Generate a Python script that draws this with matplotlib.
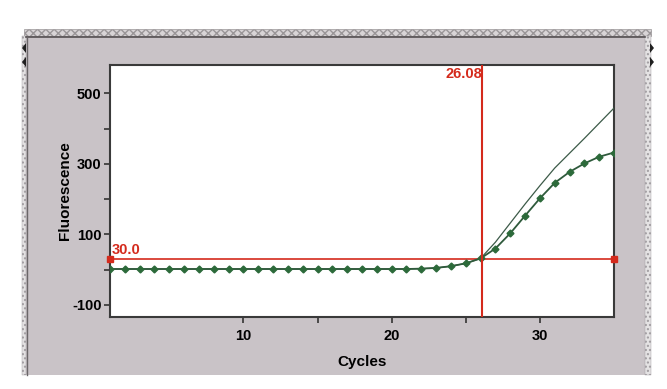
import numpy as np
import matplotlib
matplotlib.use("Agg")
import matplotlib.pyplot as plt
from matplotlib.patches import Rectangle, Polygon

plt.rcParams["font.family"] = ["Liberation Sans", "DejaVu Sans"]
plt.rcParams["font.weight"] = "bold"
plt.rcParams["axes.unicode_minus"] = False

# qPCR amplification data
cycles = np.arange(1, 36)
fitted = [2] * 21 + [3, 5, 10, 18, 32, 60, 103, 153, 202, 246, 277, 301, 320, 332]
raw = [2] * 21 + [3, 5, 10, 18, 32, 78, 132, 186, 238, 288, 330, 372, 415, 458]
threshold = 30.0
ct = 26.08
yticks_major = [-100, 100, 300, 500]
yticks_minor = [0, 200, 400]
xticks_major = [10, 20, 30]
xticks_minor = [15, 25]

W, H = 667, 389
fig = plt.figure(figsize=(W / 100, H / 100), dpi=100)
fig.patch.set_facecolor("white")


def fx(px):
    return px / W


def fy(py):
    return 1 - py / H


# window chrome
gray = "#c9c3c7"
fig.patches.append(Rectangle((fx(26), fy(375)), fx(620), (375 - 36) / H,
                             transform=fig.transFigure, facecolor=gray,
                             edgecolor="none", zorder=-2))
fig.patches.append(Rectangle((fx(24), fy(36)), fx(627), 7 / H,
                             transform=fig.transFigure, facecolor="#d8d4d6",
                             edgecolor="#9a9698", hatch="xxxx", lw=0.5, zorder=-2))
fig.patches.append(Rectangle((fx(645), fy(375)), fx(6), (375 - 36) / H,
                             transform=fig.transFigure, facecolor="#e4e2e3",
                             edgecolor="#a09ca0", hatch="....", lw=0.3, zorder=-2))
fig.patches.append(Rectangle((fx(22), fy(375)), fx(4), (375 - 36) / H,
                             transform=fig.transFigure, facecolor="#e4e2e3",
                             edgecolor="#a09ca0", hatch="....", lw=0.3, zorder=-2))
fig.lines.append(plt.Line2D([fx(26), fx(645)], [fy(37), fy(37)],
                            transform=fig.transFigure, color="#555052", lw=1.2,
                            zorder=-1))
fig.lines.append(plt.Line2D([fx(27), fx(27)], [fy(37), fy(375)],
                            transform=fig.transFigure, color="#6a6668", lw=1.0,
                            zorder=-1))
for yy in (48, 62):
    for x0, d in ((26, 1), (650, -1)):
        fig.patches.append(Polygon([(fx(x0), fy(yy - 5)), (fx(x0), fy(yy + 5)),
                                    (fx(x0 - 4 * d), fy(yy))],
                                   transform=fig.transFigure, facecolor="#202020",
                                   edgecolor="none", zorder=-1))

ax = fig.add_axes([fx(110), fy(317), fx(614 - 110), (317 - 65) / H])
ax.set_zorder(2)
ax.set_facecolor("white")

line_col = "#2f5a3c"
ax.plot(cycles, raw, color="#3c5a48", lw=0.9, zorder=3)
ax.plot(cycles, fitted, color=line_col, lw=1.3, marker="D", ms=3.5,
        markerfacecolor="#2c6a3a", markeredgecolor="#2c6a3a", zorder=4)

red = "#d42a1c"
ax.axhline(threshold, color=red, lw=1.2, zorder=2)
ax.plot([1, 35], [threshold, threshold], ls="none", marker="s", ms=5,
        color=red, clip_on=False, zorder=5)
ax.axvline(ct, color=red, lw=1.5, zorder=5)
ax.text(1.1, threshold + 6, f"{threshold:.1f}", color=red, fontsize=10.5,
        fontweight="bold", ha="left", va="bottom")
ax.text(ct, 575, f"{ct:.2f}", color=red, fontsize=10.5, fontweight="bold",
        ha="right", va="top")

ax.set_xlim(1, 35)
ax.set_ylim(-134, 580)
ax.set_yticks(yticks_major)
ax.set_yticks(yticks_minor, minor=True)
ax.set_xticks(xticks_major)
ax.set_xticks(xticks_minor, minor=True)
ax.tick_params(which="both", direction="out", length=4, width=1.2,
               color="#333333", labelsize=10.5)
ax.tick_params(axis="x", pad=5)
ax.tick_params(axis="y", pad=2)
for lab in ax.get_xticklabels() + ax.get_yticklabels():
    lab.set_fontweight("bold")
for s in ax.spines.values():
    s.set_color("#3a3a3a")
    s.set_linewidth(1.5)

ax.set_xlabel("Cycles", fontsize=11, fontweight="bold", labelpad=8)
ax.set_ylabel("Fluorescence", fontsize=11, fontweight="bold", labelpad=0)

fig.savefig("out.png", dpi=100)
